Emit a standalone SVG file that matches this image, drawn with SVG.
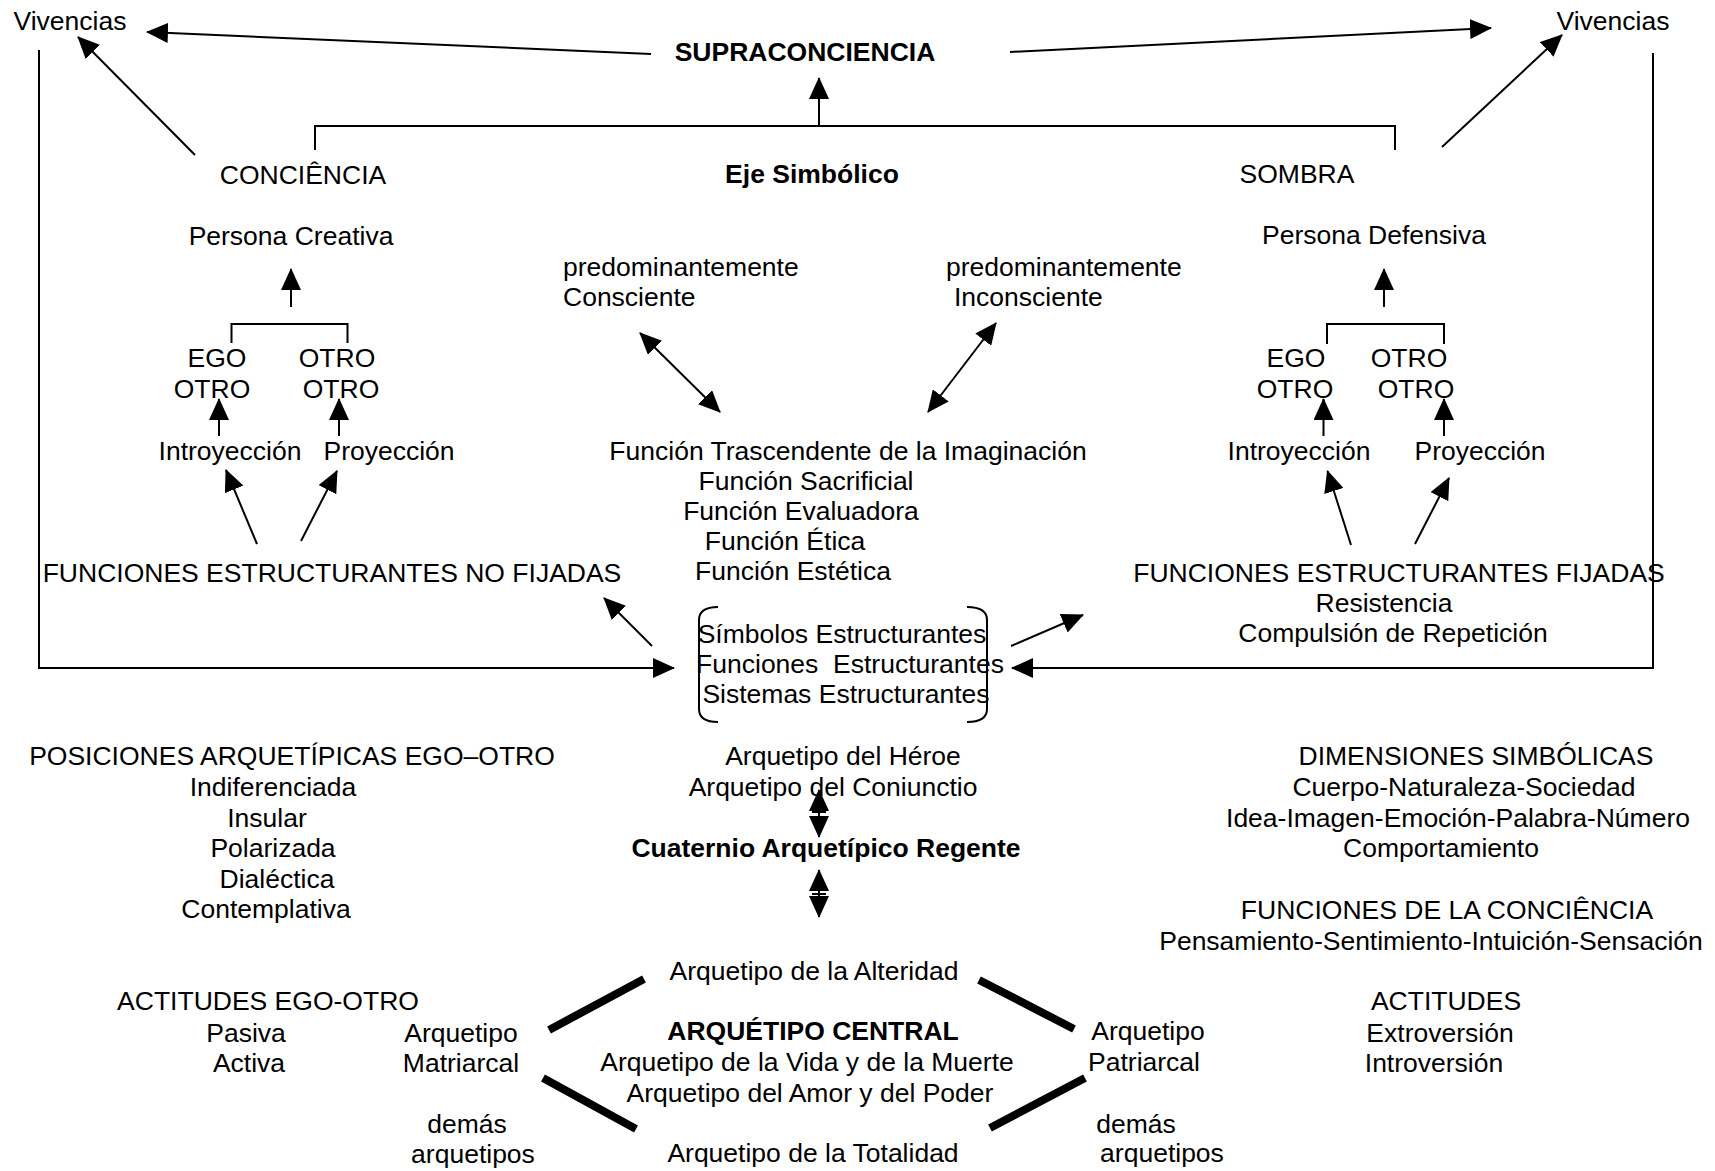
<svg xmlns="http://www.w3.org/2000/svg" width="1715" height="1171" viewBox="0 0 1715 1171">
<style>
text { font-family: "Liberation Sans", Arial, sans-serif; font-size: 26.5px; fill: #000; text-anchor: middle; }
.b { font-weight: bold; }
.l { text-anchor: start; }
.pre { white-space: pre; }
.ln { stroke: #000; stroke-width: 2; fill: none; }
.arr { stroke: #000; stroke-width: 2; fill: none; marker-end: url(#ah); }
.dbl { stroke: #000; stroke-width: 2; fill: none; marker-start: url(#ah); marker-end: url(#ah); }
.thick { stroke: #000; stroke-width: 8; fill: none; }
</style>
<defs>
<marker id="ah" markerUnits="userSpaceOnUse" markerWidth="22" markerHeight="20" refX="21" refY="10" orient="auto-start-reverse" viewBox="0 0 22 20"><path d="M0,0 L22,10 L0,20 z" fill="#000"/></marker>
</defs>
<rect width="1715" height="1171" fill="#fff"/>

<g id="connectors">
  <line class="arr" x1="651" y1="54" x2="147" y2="32"/>
  <line class="arr" x1="1010" y1="52" x2="1491" y2="28"/>
  <line class="arr" x1="195" y1="155" x2="78" y2="37"/>
  <line class="arr" x1="1442" y1="147" x2="1562" y2="35"/>
  <polyline class="arr" points="39,50 39,668 674,668"/>
  <polyline class="arr" points="1653,53 1653,668 1012,668"/>
  <polyline class="ln" points="315,150 315,126 1395,126 1395,150"/>
  <line class="arr" x1="819" y1="126" x2="819" y2="78"/>
  <!-- left persona -->
  <line class="arr" x1="291" y1="307" x2="291" y2="269"/>
  <polyline class="ln" points="231.5,343 231.5,324 347.5,324 347.5,343"/>
  <line class="arr" x1="219" y1="436" x2="219" y2="399"/>
  <line class="arr" x1="339" y1="436" x2="339" y2="399"/>
  <line class="arr" x1="257" y1="544" x2="226" y2="470"/>
  <line class="arr" x1="301" y1="541" x2="337" y2="471"/>
  <!-- right persona -->
  <line class="arr" x1="1384" y1="307" x2="1384" y2="269"/>
  <polyline class="ln" points="1327,344 1327,324 1444,324 1444,344"/>
  <line class="arr" x1="1323.5" y1="436" x2="1323.5" y2="399"/>
  <line class="arr" x1="1444" y1="436" x2="1444" y2="399"/>
  <line class="arr" x1="1351" y1="545" x2="1327.5" y2="471"/>
  <line class="arr" x1="1415" y1="544" x2="1449" y2="478"/>
  <!-- predominantemente -->
  <line class="dbl" x1="640" y1="333" x2="720" y2="412"/>
  <line class="dbl" x1="996" y1="323" x2="928" y2="412"/>
  <!-- from symbols box -->
  <line class="arr" x1="652" y1="646" x2="604" y2="598"/>
  <line class="arr" x1="1011" y1="646" x2="1083" y2="615"/>
  <!-- brackets -->
  <path class="ln" d="M718,607 Q699,607 699,620 L699,709 Q699,722 718,722"/>
  <path class="ln" d="M967,607 Q987,607 987,620 L987,709 Q987,722 967,722"/>
  <!-- vertical double arrows -->
  <line class="dbl" x1="819" y1="790" x2="819" y2="837"/>
  <line class="ln" x1="812" y1="812" x2="826" y2="812"/>
  <line class="dbl" x1="819" y1="870" x2="819" y2="917"/>
  <line class="ln" x1="812" y1="894" x2="826" y2="894"/>
  <!-- thick diamond -->
  <line class="thick" x1="549" y1="1030" x2="644" y2="979"/>
  <line class="thick" x1="979" y1="980" x2="1074" y2="1029"/>
  <line class="thick" x1="543" y1="1078" x2="636" y2="1129"/>
  <line class="thick" x1="990" y1="1128" x2="1085" y2="1078"/>
</g>

<g id="vivencias-left"><text x="70" y="30">Vivencias</text></g>
<g id="supraconciencia"><text class="b" x="805" y="61">SUPRACONCIENCIA</text></g>
<g id="vivencias-right"><text x="1613" y="30">Vivencias</text></g>
<g id="conciencia"><text x="303" y="184">CONCIÊNCIA</text></g>
<g id="eje"><text class="b" x="812" y="183">Eje Simbólico</text></g>
<g id="sombra"><text x="1297" y="183">SOMBRA</text></g>
<g id="persona-creativa"><text x="291" y="245">Persona Creativa</text></g>
<g id="persona-defensiva"><text x="1374" y="244">Persona Defensiva</text></g>
<g id="pred-consciente"><text class="l" x="563" y="276">predominantemente</text><text class="l" x="563" y="306">Consciente</text></g>
<g id="pred-inconsciente"><text class="l" x="946" y="276">predominantemente</text><text class="l" x="954" y="306">Inconsciente</text></g>
<g id="ego-otro-left">
  <text x="217" y="367">EGO</text><text x="337" y="367">OTRO</text>
  <text x="212" y="398">OTRO</text><text x="341" y="398">OTRO</text>
</g>
<g id="ego-otro-right">
  <text x="1296" y="367">EGO</text><text x="1409" y="367">OTRO</text>
  <text x="1295" y="398">OTRO</text><text x="1416" y="398">OTRO</text>
</g>
<g id="intro-proy-left"><text x="230" y="460">Introyección</text><text x="389" y="460">Proyección</text></g>
<g id="intro-proy-right"><text x="1299" y="460">Introyección</text><text x="1480" y="460">Proyección</text></g>
<g id="funciones-centrales">
  <text x="848" y="460">Función Trascendente de la Imaginación</text>
  <text x="806" y="490">Función Sacrificial</text>
  <text x="801" y="520">Función Evaluadora</text>
  <text x="785" y="550">Función Ética</text>
  <text x="793" y="580">Función Estética</text>
</g>
<g id="no-fijadas"><text x="332" y="582">FUNCIONES ESTRUCTURANTES NO FIJADAS</text></g>
<g id="fijadas">
  <text x="1399" y="582">FUNCIONES ESTRUCTURANTES FIJADAS</text>
  <text x="1384" y="612">Resistencia</text>
  <text x="1393" y="642">Compulsión de Repetición</text>
</g>
<g id="estructurantes">
  <text x="842" y="643">Símbolos Estructurantes</text>
  <text class="pre" x="850" y="673">Funciones  Estructurantes</text>
  <text x="846" y="703">Sistemas Estructurantes</text>
</g>
<g id="heroe"><text x="843" y="765">Arquetipo del Héroe</text><text x="833" y="796">Arquetipo del Coniunctio</text></g>
<g id="cuaternio"><text class="b" x="826" y="857">Cuaternio Arquetípico Regente</text></g>
<g id="posiciones">
  <text x="292" y="765">POSICIONES ARQUETÍPICAS EGO–OTRO</text>
  <text x="273" y="796">Indiferenciada</text>
  <text x="267" y="827">Insular</text>
  <text x="273" y="857">Polarizada</text>
  <text x="277" y="888">Dialéctica</text>
  <text x="266" y="918">Contemplativa</text>
</g>
<g id="dimensiones">
  <text x="1476" y="765">DIMENSIONES SIMBÓLICAS</text>
  <text x="1464" y="796">Cuerpo-Naturaleza-Sociedad</text>
  <text x="1458" y="827">Idea-Imagen-Emoción-Palabra-Número</text>
  <text x="1441" y="857">Comportamiento</text>
</g>
<g id="funciones-conciencia">
  <text x="1447" y="919">FUNCIONES DE LA CONCIÊNCIA</text>
  <text x="1431" y="950">Pensamiento-Sentimiento-Intuición-Sensación</text>
</g>
<g id="alteridad"><text x="814" y="980">Arquetipo de la Alteridad</text></g>
<g id="actitudes-ego"><text x="268" y="1010">ACTITUDES EGO-OTRO</text><text x="246" y="1042">Pasiva</text><text x="249" y="1072">Activa</text></g>
<g id="matriarcal"><text x="461" y="1042">Arquetipo</text><text x="461" y="1072">Matriarcal</text></g>
<g id="central">
  <text class="b" x="813" y="1040">ARQUÉTIPO CENTRAL</text>
  <text x="807" y="1071">Arquetipo de la Vida y de la Muerte</text>
  <text x="810" y="1102">Arquetipo del Amor y del Poder</text>
</g>
<g id="patriarcal"><text x="1148" y="1040">Arquetipo</text><text x="1144" y="1071">Patriarcal</text></g>
<g id="actitudes"><text x="1446" y="1010">ACTITUDES</text><text x="1440" y="1042">Extroversión</text><text x="1434" y="1072">Introversión</text></g>
<g id="demas-left"><text x="467" y="1133">demás</text><text x="473" y="1163">arquetipos</text></g>
<g id="demas-right"><text x="1136" y="1133">demás</text><text x="1162" y="1162">arquetipos</text></g>
<g id="totalidad"><text x="813" y="1162">Arquetipo de la Totalidad</text></g>
</svg>
